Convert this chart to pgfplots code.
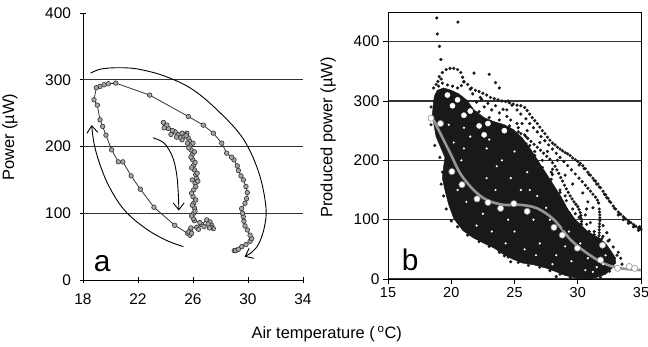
\documentclass[border=0pt]{standalone}
\usepackage{fontspec}
\setmainfont{Liberation Sans}
\usepackage{pgfplots}
\pgfplotsset{compat=1.18}
\usetikzlibrary{arrows.meta}
\definecolor{mkfill}{RGB}{165,165,165}
\definecolor{mkdraw}{RGB}{50,50,50}
\definecolor{fitgray}{RGB}{150,150,150}
\definecolor{cloud}{RGB}{25,25,25}
\begin{document}
\begin{tikzpicture}
\path[use as bounding box] (0,0) rectangle (648bp,347bp);
\pgfplotsset{
  common/.style={
    scale only axis,
    anchor=south west,
    tick align=outside,
    major tick length=5bp,
    tick style={black, line width=0.9bp},
    axis line style={black, line width=0.9bp},
    ticklabel style={font=\fontsize{15.5}{18}\selectfont},
    label style={font=\fontsize{16.5}{19}\selectfont},
    /pgf/number format/assume math mode=true,
    tick pos=left,
  }
}
% ---------------- panel a ----------------
\begin{axis}[common,
  at={(83bp,67bp)}, width=220bp, height=267bp,
  xmin=18, xmax=34, ymin=0, ymax=400,
  xtick={18,22,26,30,34}, ytick={0,100,200,300,400},
  axis x line=bottom, axis y line=left,
  axis line style={-},
  xticklabel style={yshift=-8bp},
  yticklabel style={xshift=-6bp},
  extra y ticks={100,200,300}, extra y tick labels={},
  extra y tick style={grid=major, major tick length=0pt},
  major grid style={black!80, line width=1.3bp},
  ylabel={Power (µW)},
  ylabel style={at={(axis description cs:-0.332,0.535)}, anchor=center},
  xlabel={Air temperature (\,\textsuperscript{o}C)},
  xlabel style={at={(axis description cs:1.108,-0.202)}, anchor=center},
]
\addplot[mkdraw, line width=0.8bp, mark=*, mark size=2.3bp,
  mark options={fill=mkfill, draw=mkdraw, line width=0.6bp}] coordinates {
(29.0,44) (29.1,44) (29.3,46) (29.55,50) (29.85,53) (30.15,58) (30.27,62)
(30.15,67) (29.95,75) (29.78,81) (29.7,88) (29.66,95) (29.6,100) (29.54,107)
(29.78,115) (29.9,122) (29.95,131) (29.85,140) (29.66,150) (29.49,156)
(29.3,164) (29.22,171) (28.98,180) (28.81,184) (28.45,190) (28.09,205)
(27.48,220) (26.75,232) (25.66,245) (22.85,277) (20.38,295) (19.84,294)
(19.53,292.5) (19.24,290) (18.97,288) (18.8,270) (19.04,262) (19.24,240)
(19.43,230) (19.67,217) (20.08,195) (20.57,177) (20.9,177) (21.5,156)
(22.17,136) (23.16,109) (24.67,82) (25.6,70) (25.78,67) (25.8,75) (25.85,78)
(26.27,79) (26.64,83) (27.0,90) (27.24,87) (27.36,82) (27.48,77) (27.3,79)
(27.1,84) (26.8,80) (26.5,86) (26.1,89) (26.02,92) (26.05,100) (26.1,108)
(26.05,115) (26.0,125) (26.05,135) (26.15,145) (26.27,152) (26.2,158)
(26.1,165) (26.05,172) (25.98,180) (25.95,188) (25.85,195) (25.8,202)
(25.75,208) (25.65,213) (25.55,220) (25.4,218) (25.3,214) (25.2,210)
(25.05,214) (24.9,218) (24.7,222) (24.5,224) (24.2,227) (24.0,231) (23.85,236)
};
% denser column of overlapping markers
\addplot[only marks, mark=*, mark size=2.3bp,
  mark options={fill=mkfill, draw=mkdraw, line width=0.6bp}] coordinates {
(25.9,96) (26.15,103) (25.95,112) (26.2,120) (25.9,130) (26.2,140) (25.95,150)
(26.35,148) (26.3,160) (25.9,168) (26.15,176) (25.85,184) (26.1,192) (25.7,198)
(26.0,205) (25.6,205) (25.5,216) (25.2,220) (24.8,214) (24.4,218) (24.1,232)
(23.9,228) (25.7,72) (25.9,70) (26.4,76) (27.2,78)
};
% arrows
\addplot[black, line width=0.9bp, smooth, tension=0.6,
  -{Straight Barb[length=7bp,width=11bp]}] coordinates {
(18.55,310) (19.3,316) (20.5,318) (22,316) (24,305) (26,285) (28,250)
(29.7,210) (30.8,160) (31.3,110) (31.2,80) (30.8,55) (30.3,42) (29.75,35)
};
\addplot[black, line width=0.9bp, smooth, tension=0.6,
  -{Straight Barb[length=7bp,width=11bp]}] coordinates {
(25.3,50) (24,60) (22.5,78) (21,105) (19.9,140) (19.2,175) (18.8,205) (18.63,232)
};
\addplot[black, line width=0.9bp, smooth, tension=0.6,
  -{Straight Barb[length=7bp,width=11bp]}] coordinates {
(23.1,213) (23.9,205) (24.5,185) (24.8,160) (24.93,130) (24.97,104)
};
\node at (axis cs:19.4,24) {\fontsize{30}{30}\selectfont a};
\end{axis}
% ---------------- panel b ----------------
\begin{axis}[common,
  at={(388bp,68bp)}, width=253bp, height=267bp,
  xmin=15, xmax=35, ymin=0, ymax=450,
  xtick={15,20,25,30,35}, ytick={0,100,200,300,400},
  xticklabel style={font=\fontsize{14.5}{17}\selectfont},
  ymajorgrids,
  major grid style={black!80, line width=1.3bp},
  ylabel={Produced power (µW)},
  ylabel style={at={(axis description cs:-0.237,0.53)}, anchor=center},
]
% dense core of the cloud
\addplot[fill=cloud, draw=cloud, line width=0.5bp] coordinates {
(18.6,300) (18.5,275) (18.8,240) (19.5,205) (19.4,190) (19.3,170) (19.5,150)
(19.8,125) (20.2,102) (20.9,82) (21.7,70) (22.6,60) (23.4,52) (24.1,42)
(24.8,34) (25.6,27) (26.5,24) (27.4,19) (28.2,13) (29.0,6) (29.8,2) (30.6,0)
(31.4,2) (32.2,8) (32.8,20) (33.0,35) (32.6,48) (32.2,60) (31.6,70) (30.8,80)
(29.8,100) (29.2,118) (28.7,138) (28.1,158) (27.5,178) (26.9,198) (26.3,218)
(25.6,238) (24.9,252) (24.2,260) (23.4,265) (22.6,272) (21.8,285) (21.2,302)
(20.6,312) (20.0,318) (19.4,322) (18.9,318) (18.7,310)
} -- cycle;
% ragged edge dots
\addplot[only marks, mark=*, mark size=1.4bp, mark options={fill=cloud, draw=cloud}] coordinates {
(18.4,290) (18.4,260) (18.7,225) (19.1,205) (19.3,180) (19.2,160) (19.4,140)
(19.6,118) (20.0,98) (20.5,88) (21.3,74) (22.2,63) (23.0,55) (23.8,45)
(24.5,37) (25.3,28) (26.1,23) (27.0,20) (27.8,14) (28.6,8) (29.4,3) (30.2,1)
(31.0,1) (31.8,3) (32.5,13) (32.9,27) (33.1,40) (32.8,54) (32.4,64) (31.9,68)
(31.3,80) (30.7,92) (30.1,104) (29.6,118) (29.1,132) (28.6,146) (27.9,168)
(27.2,188) (26.6,208) (25.9,228) (25.3,248) (24.6,258) (23.8,268) (23.0,272)
(22.2,282) (18.6,322) (19.0,325) (18.95,333) (19.05,341) (19.3,348) (19.6,353)
(19.9,355) (20.2,355) (20.5,353) (20.75,348) (20.9,340) (21.0,332) (20.8,326)
(20.5,322) (19.3,330) (19.2,337) (18.8,328) (20.1,325) (19.7,327)
(22.0,298) (22.6,290) (23.2,285) (23.8,280) (24.4,274) (22.9,296) (23.5,292)
(22.3,306) (21.7,312) (24.1,286) (24.7,268) (25.2,262) (21.5,320)
(29.4,104) (29.0,120) (28.5,128) (28.9,110) (28.3,145) (27.8,150) (27.6,165)
(27.9,180) (27.0,190) (26.6,215) (26.2,225) (25.9,240) (26.0,250) (25.5,245)
(30.2,92) (30.0,80) (29.6,72) (30.4,70) (31.0,65) (32.0,72) (29.2,90)
};
% trails
\addplot[only marks, mark=*, mark size=1.4bp, mark options={fill=cloud, draw=cloud}] coordinates {
(21.0,333) (21.3,328) (21.6,322) (21.9,318) (22.2,316) (22.5,313) (22.8,310)
(23.1,306) (23.4,304) (23.7,302) (24.0,300) (24.3,299) (24.6,297) (24.9,295)
(25.2,293) (25.5,292) (25.8,289) (26.0,284) (26.2,278) (26.4,272) (26.6,267)
(26.8,262) (27.0,256) (27.2,250) (27.4,245) (27.6,239) (27.8,234) (28.0,229)
(28.2,226) (28.4,222) (28.6,219) (28.8,216) (29.0,213) (29.2,211) (29.4,208)
(29.6,204) (29.8,201) (30.0,198) (30.2,195) (30.4,191) (30.6,186) (30.8,180)
(31.0,175) (31.2,170) (31.4,165) (31.6,160) (31.8,154) (32.0,148) (32.2,142)
(32.4,136) (32.6,129) (32.8,123) (33.0,118) (33.2,113) (33.4,109) (33.6,105)
(33.8,101) (34.0,98) (34.2,95) (34.4,92) (34.6,89) (34.8,86) (35.0,84)
(30.1,192) (30.5,186) (30.9,176) (31.3,166) (31.7,155) (32.1,143) (32.5,131)
(32.9,119) (33.3,110) (33.7,102) (34.1,95) (34.5,89) (34.9,84) (33.2,108)
(33.6,100) (34.0,94) (34.4,88) (34.8,82) (34.9,88) (31.5,160) (32.3,137)
(24.5,300) (25.2,285) (25.9,270) (26.5,255) (27.1,240) (27.7,226) (28.3,212)
(28.9,198) (29.5,184) (30.1,170) (30.6,158) (31.0,148) (31.4,138) (31.65,128)
(31.7,118) (31.75,108) (31.75,98) (31.7,88) (31.7,78) (31.65,68) (31.6,60)
(24.8,293) (25.5,278) (26.2,262) (26.8,248) (27.4,233) (28.0,219) (28.6,205)
(29.2,191) (29.8,177) (30.35,164) (30.8,153) (31.2,143) (31.55,133) (31.72,113)
(31.75,103) (31.72,93) (31.7,83) (31.68,73)
(25.3,255) (25.8,243) (26.3,232) (26.8,222) (27.3,212) (27.8,202) (28.2,190)
(28.5,178) (28.8,165) (29.1,152) (29.4,140) (29.7,130) (30.0,122) (30.2,112)
(30.25,102) (30.3,92) (30.3,84) (26.05,237) (26.55,227) (27.05,217) (27.55,207)
(28.0,196) (28.35,184) (28.65,171) (28.95,158) (29.25,146) (29.55,135)
(29.85,126) (30.1,117) (30.25,107) (30.3,97)
};
% scattered and outlying points
\addplot[only marks, mark=*, mark size=1.4bp, mark options={fill=cloud, draw=cloud}] coordinates {
(18.86,440) (20.53,433) (18.9,413) (19.07,392) (19.18,370)
(21.8,347) (23.0,345) (23.5,331) (23.8,322) (27.6,215) (28.0,185) (28.4,200)
(27.2,200) (29.0,175) (29.6,160) (30.4,145) (30.8,130) (29.3,112) (30.6,108)
(31.0,95) (30.9,80) (31.3,75) (32.3,78) (32.5,66) (33.2,45) (32.9,30)
(33.5,25) (28.9,85) (29.3,92) (27.8,160) (26.9,180) (27.3,170) (28.6,150)
(26.3,205) (26.6,195) (24.2,39) (24.7,29) (28.3,4) (33.4,35) (32.0,90)
(30.0,88) (29.8,110) (31.2,120) (30.7,118) (27.0,230) (24.4,285) (22.4,303)
(25.6,262) (28.0,176) (29.0,140) (23.9,46)
};
% white gaps inside the cloud
\addplot[only marks, mark=*, mark size=2.6bp, mark options={fill=white, draw=white}] coordinates {
(19.9,338) (21.0,276) (21.5,283) (22.2,258) (20.1,292) (22.9,262)
(20.5,302) (24.2,250) (19.7,310) (22.6,243)
};
\addplot[only marks, mark=*, mark size=0.9bp, mark options={fill=white, draw=white}] coordinates {
(22.5,110) (25.0,80) (27.0,60) (29.5,30) (30.6,15) (31.5,20) (23.5,150)
(26.2,150) (24.0,200) (21.0,220) (27.8,100) (30.8,35) (32.2,40) (20.5,150)
(20.2,230) (21.5,240) (22.8,220) (23.6,190) (24.7,170) (25.5,150) (26.8,140)
(27.5,120) (21.2,130) (22.0,90) (23.2,80) (24.3,60) (25.8,50) (26.7,40)
(28.3,40) (29.0,55) (28.0,25) (31.2,12) (32.0,25) (30.2,60) (29.3,80)
(26.5,100) (24.5,100) (22.8,170) (20.8,200) (19.8,260) (21.0,255) (23.0,235)
(25.0,215) (26.0,180)
};
% fitted curve
\addplot[fitgray, line width=2.6bp, smooth, tension=0.55] coordinates {
(18.6,268) (19.92,212) (20.71,178) (21.77,150) (22.83,133) (24.15,125)
(25.48,125) (26.8,119) (28.12,100) (29.44,66) (30.77,43) (32.09,26)
(33.4,18) (35,15)
};
\addplot[only marks, mark=*, mark size=3.1bp,
  mark options={fill=white, draw=fitgray, line width=0.6bp}] coordinates {
(18.4,271) (19.15,262) (20.05,181) (20.85,159) (22.04,135) (22.9,129)
(23.9,119) (24.95,127) (26.0,114) (28.12,87) (28.78,74) (29.97,52)
(31.96,57) (31.8,32) (33.15,18) (34.07,21) (34.5,18)
};
\node at (axis cs:16.75,32) {\fontsize{30}{30}\selectfont b};
\end{axis}
\end{tikzpicture}
\end{document}
